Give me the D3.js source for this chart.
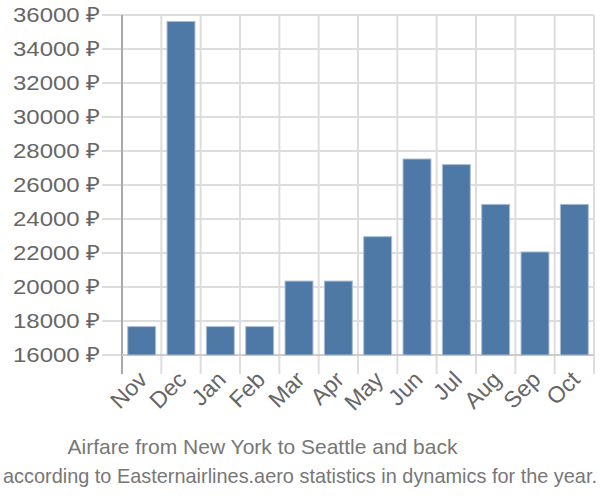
<!DOCTYPE html>
<html><head><meta charset="utf-8">
<script src="https://cdn.jsdelivr.net/npm/d3@7"></script>
<style>body{margin:0;background:#fff}</style>
</head><body>
<svg id="c" width="600" height="500"></svg>
<script>
const categories = ["Nov","Dec","Jan","Feb","Mar","Apr","May","Jun","Jul","Aug","Sep","Oct"];
const values = [17670, 35620, 17670, 17670, 20350, 20350, 22960, 27530, 27200, 24860, 22060, 24860];
const yTicks = [16000,18000,20000,22000,24000,26000,28000,30000,32000,34000,36000];
const title = "Airfare from New York to Seattle and back";
const subtitle = "according to Easternairlines.aero statistics in dynamics for the year.";

const svg = d3.select("#c");
const L = 122, R = 594, T = 15, B = 355;
const x = d3.scaleBand().domain(categories).range([L, R]).paddingInner(0.29).paddingOuter(0.145);
const xg = d3.scaleBand().domain(categories).range([L, R]);
const y = d3.scaleLinear().domain([16000, 36000]).range([B, T]);
const font = "'Liberation Sans', Arial, sans-serif";

// horizontal grid + ticks
svg.append("g").selectAll("line").data(yTicks).join("line")
  .attr("x1", L - 20).attr("x2", R).attr("y1", d => y(d)).attr("y2", d => y(d))
  .attr("stroke", "#ddd").attr("stroke-width", 2);
// vertical grid
const vx = categories.map(c => xg(c)).concat([R]);
svg.append("g").selectAll("line").data(vx.slice(1)).join("line")
  .attr("x1", d => d).attr("x2", d => d).attr("y1", T).attr("y2", B + 19)
  .attr("stroke", "#ddd").attr("stroke-width", 2);
// y axis line
svg.append("line").attr("x1", L).attr("x2", L).attr("y1", T).attr("y2", B + 19)
  .attr("stroke", "#aaa").attr("stroke-width", 2);
// x axis line
svg.append("line").attr("x1", L).attr("x2", R).attr("y1", B).attr("y2", B)
  .attr("stroke", "#ccc").attr("stroke-width", 2);

// bars
svg.append("g").selectAll("rect").data(values).join("rect")
  .attr("x", (d, i) => x(categories[i])).attr("width", x.bandwidth())
  .attr("y", d => y(d)).attr("height", d => B - y(d))
  .attr("fill", "#4e78a6").attr("stroke", "#a9bdd6").attr("stroke-width", 1);

// y labels
svg.append("g").selectAll("text").data(yTicks).join("text")
  .attr("x", 100).attr("y", d => y(d)).attr("dy", "0.35em")
  .attr("text-anchor", "end").attr("font-family", font).attr("font-size", 21)
  .attr("textLength", 87).attr("lengthAdjust", "spacingAndGlyphs")
  .attr("fill", "#666").text(d => d + " ₽");

// x labels
svg.append("g").selectAll("text").data(categories).join("text")
  .attr("transform", c => `translate(${xg(c) + xg.bandwidth() / 2 + 7},${B + 26}) rotate(-45)`)
  .attr("text-anchor", "end").attr("font-family", font).attr("font-size", 23)
  .attr("fill", "#666").text(c => c);

svg.append("text").attr("x", 262.5).attr("y", 453.5).attr("text-anchor", "middle")
  .attr("font-family", font).attr("font-size", 21).attr("fill", "#777").text(title);
svg.append("text").attr("x", 300).attr("y", 483).attr("text-anchor", "middle")
  .attr("font-family", font).attr("font-size", 21).attr("fill", "#777")
  .attr("textLength", 594).attr("lengthAdjust", "spacingAndGlyphs").text(subtitle);
</script>
</body></html>
